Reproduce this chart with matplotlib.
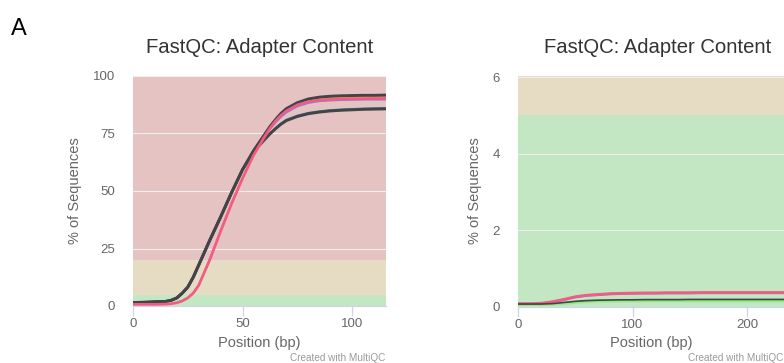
import matplotlib
matplotlib.use("Agg")
import matplotlib.pyplot as plt

plt.rcParams["font.family"] = ["Liberation Sans", "DejaVu Sans"]

# ---- panel 1: adapter content, short library (% of sequences by position)
left_pos = [0, 5, 10, 15, 17.5, 20, 22.5, 25, 27.5, 30, 35, 40, 45, 50, 55,
            60, 62.5, 65, 67.5, 70, 75, 80, 85, 90, 95, 100, 105, 110, 115]
left_dark_top = [1.5, 1.6, 1.8, 2.0, 2.5, 3.5, 5.6, 8.2, 12.5, 17.8, 28.5, 38.7, 49.3, 59.3, 67.5,
                 74.5, 78.0, 81.0, 83.7, 85.8, 88.4, 90.0, 90.8, 91.2, 91.4, 91.5, 91.6, 91.6, 91.7]
left_orange = [1.5, 1.6, 1.8, 2.0, 2.5, 3.5, 5.6, 8.2, 12.5, 17.8, 28.5, 38.7, 49.3, 59.3, 67.4,
               74.2, 77.6, 80.6, 83.2, 85.3, 87.8, 89.4, 90.2, 90.6, 90.8, 90.9, 91.0, 91.0, 91.1]
left_purple = [1.5, 1.6, 1.8, 2.0, 2.5, 3.5, 5.6, 8.2, 12.5, 17.8, 28.5, 38.7, 49.3, 59.3, 67.3,
               73.8, 77.0, 79.8, 82.2, 84.2, 86.8, 88.3, 89.1, 89.4, 89.6, 89.7, 89.8, 89.8, 89.8]
left_pink = [0.7, 0.7, 0.7, 0.8, 1.0, 1.4, 2.2, 3.5, 5.6, 9.0, 20.0, 32.5, 44.5, 55.5, 65.5,
             73.5, 77.2, 80.3, 82.8, 84.8, 87.4, 88.8, 89.5, 89.8, 90.0, 90.1, 90.1, 90.2, 90.2]
left_dark_low = [1.5, 1.6, 1.8, 2.0, 2.5, 3.5, 5.6, 8.2, 12.5, 17.8, 28.5, 38.7, 49.3, 59.3, 67.0,
                 72.3, 74.8, 77.0, 79.0, 80.6, 82.4, 83.6, 84.3, 84.8, 85.1, 85.3, 85.5, 85.6, 85.7]
left_teal = [1.5, 1.6, 1.8, 2.0, 2.5, 3.5, 5.6, 8.2, 12.5, 17.8, 28.5, 38.7, 49.3, 59.3, 67.1,
             72.5, 75.0, 77.3, 79.3, 80.9, 82.7, 83.9, 84.6, 85.1, 85.4, 85.6, 85.8, 85.9, 86.0]
left_bands = [(0, 5), (5, 20), (20, 100)]
left_yticks = [0, 25, 50, 75, 100]
left_xticks = [0, 50, 100]

# ---- panel 2: adapter content, long library
right_pos = [0, 10, 20, 30, 40, 50, 60, 70, 80, 90, 100, 110, 120,
             130, 140, 150, 160, 170, 180, 190, 200, 210, 220, 230, 240]
right_purple = [0.07, 0.07, 0.08, 0.12, 0.18, 0.25, 0.29, 0.31, 0.33, 0.34, 0.345, 0.35, 0.35,
                0.355, 0.355, 0.355, 0.36, 0.36, 0.36, 0.36, 0.36, 0.36, 0.36, 0.36, 0.36]
right_pink = [0.08, 0.08, 0.09, 0.13, 0.19, 0.26, 0.30, 0.32, 0.34, 0.35, 0.355, 0.36, 0.36,
              0.365, 0.365, 0.365, 0.37, 0.37, 0.37, 0.37, 0.37, 0.37, 0.37, 0.37, 0.37]
right_green = [0.05, 0.05, 0.05, 0.06, 0.08, 0.11, 0.13, 0.14, 0.145, 0.15, 0.15, 0.15, 0.15,
               0.15, 0.15, 0.15, 0.15, 0.15, 0.15, 0.15, 0.15, 0.15, 0.15, 0.15, 0.15]
right_dark = [0.07, 0.07, 0.07, 0.08, 0.11, 0.14, 0.16, 0.17, 0.175, 0.18, 0.18, 0.185, 0.185,
              0.185, 0.185, 0.19, 0.19, 0.19, 0.19, 0.19, 0.19, 0.19, 0.19, 0.19, 0.19]
right_bands = [(0, 5), (5, 6.04)]
right_yticks = [0, 2, 4, 6]
right_xticks = [0, 100, 200]

band_colors = ["#c3e6c3", "#e6dcc4", "#e6c3c3"]
DARK, PINK, ORANGE, PURPLE, TEAL, GREEN = "#434348", "#f15c80", "#f7a35c", "#8085e9", "#2b908f", "#90ed7d"

W, H = 784, 363
fig = plt.figure(figsize=(W / 100, H / 100), dpi=100)


def style_axes(ax, bands, yticks, xticks, xmax, ymax):
    for (lo, hi), c in zip(bands, band_colors):
        ax.axhspan(lo, hi, color=c, lw=0, zorder=0)
    for y in yticks[1:]:
        ax.axhline(y, color="#f3eeee", lw=0.8, zorder=1)
    ax.set_xlim(0, xmax)
    ax.set_ylim(0, ymax)
    ax.set_xticks(xticks)
    ax.set_yticks(yticks)
    for s in ["top", "right", "left"]:
        ax.spines[s].set_visible(False)
    ax.spines["bottom"].set_color("#ccd6eb")
    ax.spines["bottom"].set_linewidth(0.9)
    ax.spines["bottom"].set_zorder(5)
    ax.tick_params(axis="x", length=7.2, width=0.9, color="#ccd6eb",
                   labelcolor="#666666", labelsize=9.5, pad=1.5)
    ax.tick_params(axis="y", length=0, labelcolor="#666666", labelsize=9.5, pad=13)
    ax.set_ylabel("% of Sequences", color="#666666", fontsize=10.5)


# left panel
ax1 = fig.add_axes([133 / W, 1 - 306 / H, 253 / W, 230 / H])
style_axes(ax1, left_bands, left_yticks, left_xticks, 115.5, 100)
ax1.plot(left_pos, left_purple, color=PURPLE, lw=1.6, zorder=3)
ax1.plot(left_pos, left_orange, color=ORANGE, lw=1.6, zorder=3)
ax1.plot(left_pos, left_teal, color=TEAL, lw=1.6, zorder=3)
ax1.plot(left_pos, left_dark_low, color=DARK, lw=2.1, zorder=4)
ax1.plot(left_pos, left_dark_top, color=DARK, lw=2.1, zorder=4)
ax1.plot(left_pos, left_pink, color=PINK, lw=2.0, zorder=4)
ax1.yaxis.set_label_coords(-0.202, 0.5)

# right panel
ax2 = fig.add_axes([518 / W, 1 - 306.7 / H, 266 / W, 231.2 / H])
style_axes(ax2, right_bands, right_yticks, right_xticks, 232.3, 6.04)
ax2.plot(right_pos, right_purple, color=PURPLE, lw=1.8, zorder=3)
ax2.plot(right_pos, right_pink, color=PINK, lw=2.0, zorder=4)
ax2.plot(right_pos, right_green, color=GREEN, lw=1.8, zorder=3)
ax2.plot(right_pos, right_dark, color=DARK, lw=1.2, zorder=4)
ax2.yaxis.set_label_coords(-0.135, 0.5)

# titles, axis labels, credits
for cx, plot_cx, right_edge in [(260, 259.5, 386), (658, 651, 784)]:
    fig.text(cx / W, 1 - 52.7 / H, "FastQC: Adapter Content", ha="center", va="baseline",
             fontsize=14.6, color="#333333")
    fig.text(plot_cx / W, 1 - 346.5 / H, "Position (bp)", ha="center", va="baseline",
             fontsize=10.5, color="#666666")
    fig.text((right_edge - 1) / W, 1 - 361 / H, "Created with MultiQC", ha="right", va="baseline",
             fontsize=7.2, color="#999999")

fig.text(11 / W, 1 - 35 / H, "A", ha="left", va="baseline", fontsize=17, color="black")

fig.savefig("out.png", dpi=100)
